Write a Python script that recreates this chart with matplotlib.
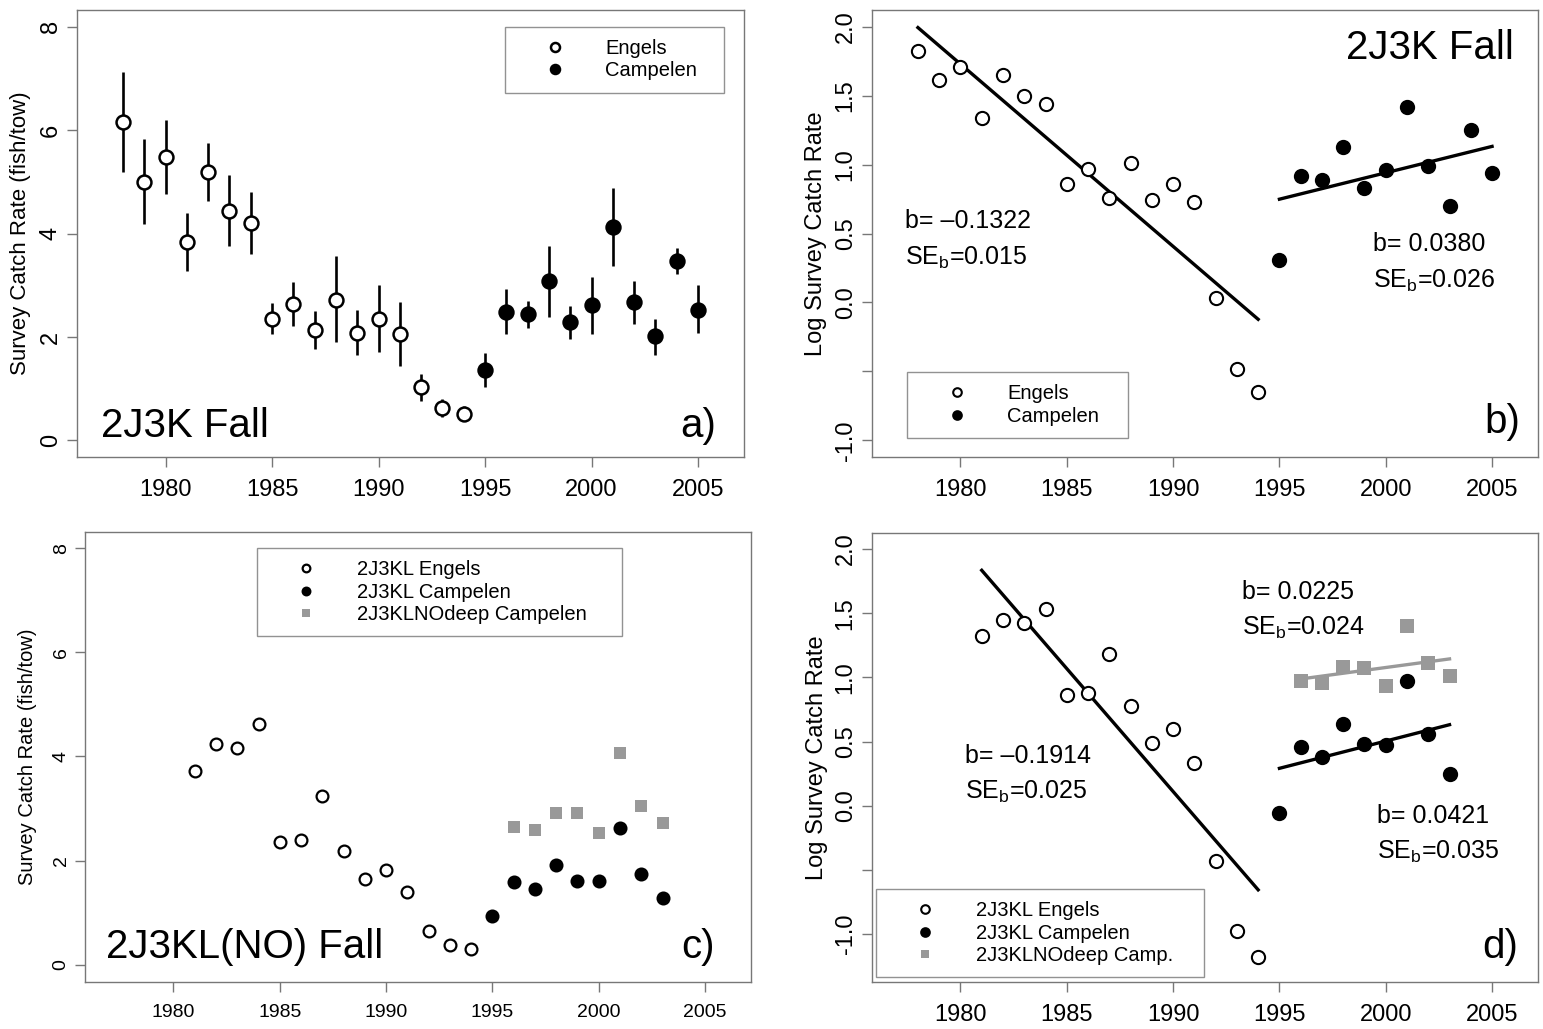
import numpy as np
import matplotlib
matplotlib.use("Agg")
import matplotlib.pyplot as plt

plt.rcParams['font.family'] = ['Liberation Sans', 'DejaVu Sans']
plt.rcParams['mathtext.default'] = 'regular'

# ---- data ----
# panel a: 2J3K fall mean catch rate with error bars
yrs_eng_a = list(range(1978, 1995))
rate_eng_a = [6.15, 5.00, 5.48, 3.83, 5.18, 4.44, 4.20, 2.35, 2.63, 2.13, 2.72, 2.08, 2.35, 2.06, 1.03, 0.62, 0.51]
hi_eng_a = [7.12, 5.83, 6.20, 4.40, 5.74, 5.14, 4.81, 2.65, 3.06, 2.50, 3.56, 2.52, 3.00, 2.68, 1.28, 0.80, 0.67]
lo_eng_a = [5.19, 4.19, 4.76, 3.27, 4.62, 3.76, 3.61, 2.05, 2.21, 1.76, 1.90, 1.65, 1.70, 1.44, 0.77, 0.45, 0.37]
yrs_camp_a = list(range(1995, 2006))
rate_camp_a = [1.36, 2.49, 2.45, 3.08, 2.29, 2.61, 4.12, 2.67, 2.01, 3.47, 2.53]
hi_camp_a = [1.69, 2.93, 2.69, 3.76, 2.60, 3.15, 4.88, 3.09, 2.35, 3.72, 3.00]
lo_camp_a = [1.03, 2.06, 2.18, 2.39, 1.97, 2.06, 3.37, 2.26, 1.65, 3.22, 2.07]

# panel b: log catch rate 2J3K
log_eng_b = [1.82, 1.61, 1.71, 1.34, 1.65, 1.50, 1.44, 0.86, 0.97, 0.76, 1.01, 0.74, 0.86, 0.73, 0.03, -0.48, -0.65]
log_camp_b = [0.31, 0.92, 0.89, 1.13, 0.83, 0.96, 1.42, 0.99, 0.70, 1.25, 0.94]

# panel c: 2J3KL(NO) fall
yrs_eng_c = list(range(1981, 1995))
rate_eng_c = [3.72, 4.24, 4.16, 4.63, 2.35, 2.40, 3.25, 2.19, 1.64, 1.82, 1.40, 0.64, 0.38, 0.30]
yrs_camp_c = list(range(1995, 2004))
rate_camp_c = [0.94, 1.59, 1.46, 1.91, 1.61, 1.60, 2.62, 1.75, 1.28]
yrs_deep_c = list(range(1996, 2004))
rate_deep_c = [2.64, 2.59, 2.92, 2.91, 2.53, 4.06, 3.04, 2.73]

# panel d: log catch rate 2J3KL(NO)
log_eng_d = [1.32, 1.45, 1.42, 1.53, 0.86, 0.88, 1.18, 0.78, 0.49, 0.60, 0.33, -0.43, -0.98, -1.18]
log_camp_d = [-0.06, 0.46, 0.38, 0.64, 0.48, 0.47, 0.97, 0.56, 0.25]
log_deep_d = [0.97, 0.955, 1.08, 1.07, 0.93, 1.40, 1.11, 1.01]

year_ticks = [1980, 1985, 1990, 1995, 2000, 2005]

GRAY_AX = '#777777'
GRAY_PT = '#999999'

fig = plt.figure(figsize=(15.43, 10.29), dpi=100)
W, H = 1543, 1029


def make_ax(l, r, t, b):
    return fig.add_axes([l / W, (H - b) / H, (r - l) / W, (b - t) / H])


def style(ax, ylim, yticks, ylabels, tick_fs, ylab, ylab_fs, ylab_x):
    ax.set_xlim(1975.84, 2007.16)
    ax.set_ylim(*ylim)
    ax.set_xticks(year_ticks)
    ax.set_xticklabels([str(y) for y in year_ticks], fontsize=tick_fs)
    ax.set_yticks(yticks)
    ax.set_yticklabels(ylabels, fontsize=tick_fs, rotation=90, va='center')
    for s in ax.spines.values():
        s.set_color(GRAY_AX)
        s.set_linewidth(1.0)
    ax.tick_params(axis='both', direction='out', length=7, width=1.0, color=GRAY_AX)
    ax.tick_params(axis='x', pad=9)
    ax.tick_params(axis='y', pad=4)
    ax.text(ylab_x, 0.5, ylab, transform=ax.transAxes, rotation=90,
            ha='center', va='center', fontsize=ylab_fs)


def legend(ax, x0, top, w, handles_labels):
    hs = [h for h, _ in handles_labels]
    ls = [l for _, l in handles_labels]
    leg = ax.legend(hs, ls, loc='upper left', bbox_to_anchor=(x0, top - 0.5, w, 0.5),
                    mode='expand', fontsize=14.5, frameon=True, fancybox=False,
                    edgecolor=GRAY_AX, borderpad=0.6, handlelength=3.7,
                    handletextpad=0.65, labelspacing=0.17, borderaxespad=0,
                    markerscale=0.65)
    leg.get_frame().set_linewidth(1.0)
    return leg


def fit_line(ax, x, y, color):
    x = np.asarray(x, float)
    k, c = np.polyfit(x, y, 1)
    xs = np.array([x.min(), x.max()])
    ax.plot(xs, k * xs + c, '-', color=color, lw=2.4, zorder=2)


# ---- panel a ----
ax = make_ax(77, 744, 10, 457)
style(ax, (-0.32, 8.32), [0, 2, 4, 6, 8], ['0', '2', '4', '6', '8'], 17,
      'Survey Catch Rate (fish/tow)', 16, -0.085)
ax.vlines(yrs_eng_a, lo_eng_a, hi_eng_a, color='black', lw=1.9)
ax.vlines(yrs_camp_a, lo_camp_a, hi_camp_a, color='black', lw=1.9)
h1, = ax.plot(yrs_eng_a, rate_eng_a, 'o', ms=10, mfc='white', mec='black', mew=1.8, ls='none')
h2, = ax.plot(yrs_camp_a, rate_camp_a, 'o', ms=10, mfc='black', mec='black', mew=1.8, ls='none')
legend(ax, 0.642, 0.962, 0.328, [(h1, 'Engels'), (h2, 'Campelen')])
ax.text(0.036, 0.045, '2J3K Fall', transform=ax.transAxes, fontsize=29, ha='left', va='baseline')
ax.text(0.958, 0.045, 'a)', transform=ax.transAxes, fontsize=29, ha='right', va='baseline')

# ---- panel b ----
ax = make_ax(872, 1538, 10, 457)
style(ax, (-1.12, 2.12), [-1.0, -0.5, 0.0, 0.5, 1.0, 1.5, 2.0],
      ['-1.0', '', '0.0', '0.5', '1.0', '1.5', '2.0'], 17,
      'Log Survey Catch Rate', 17, -0.084)
fit_line(ax, yrs_eng_a, log_eng_b, 'black')
fit_line(ax, yrs_camp_a, log_camp_b, 'black')
h1, = ax.plot(yrs_eng_a, log_eng_b, 'o', ms=9.5, mfc='white', mec='black', mew=1.5, ls='none', zorder=3)
h2, = ax.plot(yrs_camp_a, log_camp_b, 'o', ms=9.5, mfc='black', mec='black', mew=1.5, ls='none', zorder=3)
legend(ax, 0.053, 0.190, 0.331, [(h1, 'Engels'), (h2, 'Campelen')])
ax.text(0.964, 0.890, '2J3K Fall', transform=ax.transAxes, fontsize=29, ha='right', va='baseline')
ax.text(0.974, 0.054, 'b)', transform=ax.transAxes, fontsize=29, ha='right', va='baseline')
ax.text(0.050, 0.512, 'b= \u20130.1322', transform=ax.transAxes, fontsize=18, va='baseline')
ax.text(0.050, 0.430, 'SE$_b$=0.015', transform=ax.transAxes, fontsize=18, va='baseline')
ax.text(0.752, 0.460, 'b= 0.0380', transform=ax.transAxes, fontsize=18, va='baseline')
ax.text(0.752, 0.378, 'SE$_b$=0.026', transform=ax.transAxes, fontsize=18, va='baseline')

# ---- panel c ----
ax = make_ax(85, 751, 532, 982)
style(ax, (-0.33, 8.31), [0, 2, 4, 6, 8], ['0', '2', '4', '6', '8'], 14,
      'Survey Catch Rate (fish/tow)', 14.5, -0.086)
h1, = ax.plot(yrs_eng_c, rate_eng_c, 'o', ms=8.5, mfc='white', mec='black', mew=1.6, ls='none')
h2, = ax.plot(yrs_camp_c, rate_camp_c, 'o', ms=8.5, mfc='black', mec='black', mew=1.6, ls='none')
h3, = ax.plot(yrs_deep_c, rate_deep_c, 's', ms=9, mfc=GRAY_PT, mec=GRAY_PT, mew=0, ls='none')
legend(ax, 0.258, 0.964, 0.548, [(h1, '2J3KL Engels'), (h2, '2J3KL Campelen'),
                                  (h3, '2J3KLNOdeep Campelen')])
ax.text(0.032, 0.053, '2J3KL(NO) Fall', transform=ax.transAxes, fontsize=29, ha='left', va='baseline')
ax.text(0.946, 0.053, 'c)', transform=ax.transAxes, fontsize=29, ha='right', va='baseline')

# ---- panel d ----
ax = make_ax(872, 1538, 533, 982)
style(ax, (-1.374, 2.125), [-1.0, -0.5, 0.0, 0.5, 1.0, 1.5, 2.0],
      ['-1.0', '', '0.0', '0.5', '1.0', '1.5', '2.0'], 17,
      'Log Survey Catch Rate', 17, -0.083)
fit_line(ax, yrs_eng_c, log_eng_d, 'black')
fit_line(ax, yrs_camp_c, log_camp_d, 'black')
fit_line(ax, yrs_deep_c, log_deep_d, GRAY_PT)
h1, = ax.plot(yrs_eng_c, log_eng_d, 'o', ms=9.5, mfc='white', mec='black', mew=1.5, ls='none', zorder=3)
h2, = ax.plot(yrs_camp_c, log_camp_d, 'o', ms=9.5, mfc='black', mec='black', mew=1.5, ls='none', zorder=3)
h3, = ax.plot(yrs_deep_c, log_deep_d, 's', ms=9.5, mfc=GRAY_PT, mec=GRAY_PT, mew=0, ls='none', zorder=3)
legend(ax, 0.006, 0.207, 0.493, [(h1, '2J3KL Engels'), (h2, '2J3KL Campelen'),
                                  (h3, '2J3KLNOdeep Camp.')])
ax.text(0.970, 0.053, 'd)', transform=ax.transAxes, fontsize=29, ha='right', va='baseline')
ax.text(0.140, 0.488, 'b= \u20130.1914', transform=ax.transAxes, fontsize=18, va='baseline')
ax.text(0.140, 0.408, 'SE$_b$=0.025', transform=ax.transAxes, fontsize=18, va='baseline')
ax.text(0.555, 0.853, 'b= 0.0225', transform=ax.transAxes, fontsize=18, va='baseline')
ax.text(0.555, 0.773, 'SE$_b$=0.024', transform=ax.transAxes, fontsize=18, va='baseline')
ax.text(0.758, 0.354, 'b= 0.0421', transform=ax.transAxes, fontsize=18, va='baseline')
ax.text(0.758, 0.274, 'SE$_b$=0.035', transform=ax.transAxes, fontsize=18, va='baseline')

fig.savefig('out.png', dpi=100)
